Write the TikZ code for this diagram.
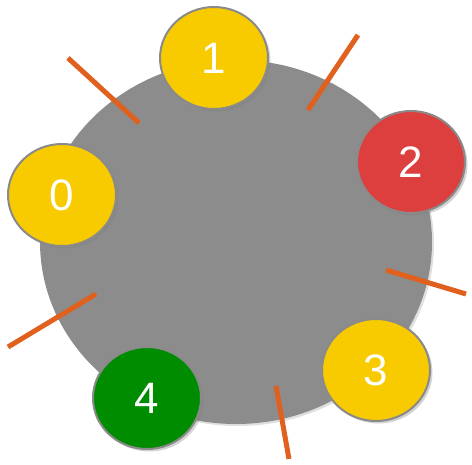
\documentclass[tikz,border=0pt]{standalone}
\usepackage{fontspec}
\setmainfont{Liberation Sans}
\usetikzlibrary{shapes.geometric,shadows}
\definecolor{ringgray}{HTML}{8C8C8C}
\definecolor{edgegray}{HTML}{8A8A8A}
\definecolor{tickorange}{HTML}{E0601E}
\definecolor{nyellow}{HTML}{F7CB00}
\definecolor{nred}{HTML}{DC3F3E}
\definecolor{ngreen}{HTML}{008C00}
\tikzset{
  peer/.style={ellipse, draw=edgegray, line width=2pt, minimum width=108pt, minimum height=102pt,
    inner sep=0pt, text=white, font=\fontsize{44}{44}\selectfont,
    drop shadow={opacity=0.35, shadow xshift=2.5pt, shadow yshift=-2.5pt}},
  tick/.style={draw=tickorange, line width=5pt},
}
\begin{document}
\begin{tikzpicture}[x=1pt,y=-1pt]
\useasboundingbox (0,0) rectangle (472,464);
\fill[ringgray, drop shadow={opacity=0.25, shadow xshift=2pt, shadow yshift=-2pt}] (236,242) ellipse [x radius=196, y radius=182];
\coordinate (a1) at (68,58);  \coordinate (a2) at (139,123);
\coordinate (b1) at (358,35); \coordinate (b2) at (308,110);
\coordinate (c1) at (386,270); \coordinate (c2) at (466,294);
\coordinate (d1) at (276,386); \coordinate (d2) at (289,459);
\coordinate (e1) at (96,294);  \coordinate (e2) at (8,347);
\draw[tick] (a1) -- (a2);
\draw[tick] (b1) -- (b2);
\draw[tick] (c1) -- (c2);
\draw[tick] (d1) -- (d2);
\draw[tick] (e1) -- (e2);
\node[peer, fill=nyellow] (n1) at (214,58) {1};
\node[peer, fill=nred] (n2) at (411,162) {2};
\node[peer, fill=nyellow] (n0) at (62,195) {0};
\node[peer, fill=nyellow] (n3) at (376,370) {3};
\node[peer, fill=ngreen] (n4) at (147,398) {4};
\end{tikzpicture}
\end{document}
